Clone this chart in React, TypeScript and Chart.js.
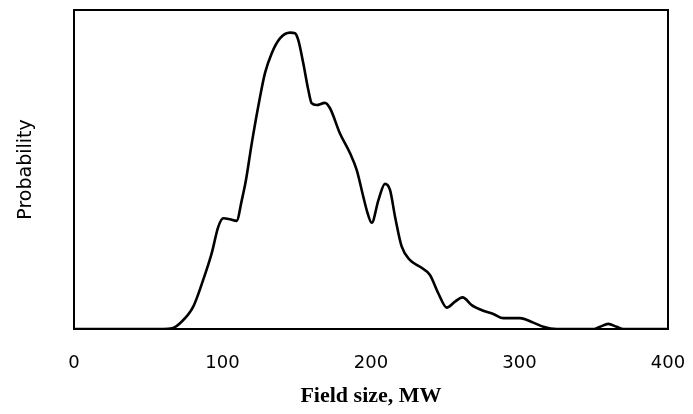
import React, { useEffect, useRef } from "react";
import { Chart, registerables } from "chart.js";

Chart.register(...registerables);

// Field size (MW) sample positions
const fieldSize = [
  0, 60, 66, 71.4, 80.3, 87, 92.7, 97.2, 100.6, 105, 109.5, 113, 115.8, 119.7,
  125.3, 128.6, 133.1, 138.7, 145.5, 148.8, 151, 154.4, 157.8, 160, 163.4, 169,
  172.4, 179.1, 185.9, 190.4, 194.8, 197.1, 200.5, 205, 209.4, 212.8, 216.2,
  220.7, 226.3, 233, 239.7, 245.3, 251, 256.6, 261.7, 267.8, 275.6, 282.4,
  289.1, 300.3, 309.3, 316, 325, 350, 354.2, 359.8, 365.4, 370, 400,
];

// Relative probability (0–100 of the plot height)
const probability = [
  0, 0, 0.2, 1.8, 7.0, 15.4, 23.7, 32.1, 34.7, 34.4, 33.9, 40.4, 46.7, 58.2,
  72.8, 80.2, 86.4, 91.1, 92.9, 92.7, 90.6, 83.3, 74.9, 70.8, 70.2, 70.9,
  69.2, 61.3, 55.1, 49.8, 41.5, 37.3, 33.3, 40.4, 45.5, 43.6, 35.2,
  25.8, 21.6, 19.5, 16.9, 11.2, 6.7, 8.6, 9.9, 7.5, 5.7, 4.7,
  3.4, 3.4, 2.0, 0.7, 0, 0, 0.7, 1.6, 0.7, 0, 0,
];

const xTickValues = [0, 100, 200, 300, 400];
const xTitle = "Field size, MW";
const yTitle = "Probability";

const framePlugin = {
  id: "frame",
  afterDatasetsDraw(chart: any) {
    const { ctx, chartArea } = chart;
    const { left, top, right, bottom } = chartArea;
    ctx.save();
    ctx.strokeStyle = "#000";
    ctx.lineWidth = 2;
    ctx.strokeRect(left, top, right - left, bottom - top);
    ctx.restore();
  },
};

export default function App() {
  const ref = useRef<HTMLCanvasElement | null>(null);

  useEffect(() => {
    document.body.style.margin = "0";
    const canvas = ref.current;
    if (!canvas) return;
    const chart = new Chart(canvas, {
      type: "line",
      data: {
        datasets: [
          {
            data: fieldSize.map((x, i) => ({ x, y: probability[i] })),
            borderColor: "#000",
            borderWidth: 2.6,
            pointRadius: 0,
            fill: false,
            tension: 0.4,
            cubicInterpolationMode: "monotone",
          },
        ],
      },
      options: {
        animation: false,
        responsive: false,
        maintainAspectRatio: false,
        events: [],
        layout: { padding: { top: 10, right: 25, left: 0, bottom: 0 } },
        plugins: {
          legend: { display: false },
          tooltip: { enabled: false },
        },
        scales: {
          x: {
            type: "linear",
            min: 0,
            max: 400,
            afterBuildTicks: (s: any) => {
              s.ticks = xTickValues.map((v) => ({ value: v }));
            },
            afterFit: (s: any) => {
              s.height = 85;
              s.paddingLeft = 0;
              s.paddingRight = 0;
            },
            grid: { display: false, drawTicks: false },
            border: { display: false },
            ticks: {
              color: "#000",
              padding: 24,
              maxRotation: 0,
              font: { family: "DejaVu Sans", size: 18, lineHeight: 1.2 },
              callback: (v: any) => String(v),
            },
            title: {
              display: true,
              text: xTitle,
              color: "#000",
              font: { family: "Liberation Serif", size: 22, weight: "bold", lineHeight: 1.2 },
              padding: { top: 0, bottom: 4 },
            },
          },
          y: {
            type: "linear",
            min: 0,
            max: 100,
            afterFit: (s: any) => {
              s.width = 74;
              s.paddingTop = 0;
              s.paddingBottom = 0;
            },
            grid: { display: false, drawTicks: false },
            border: { display: false },
            ticks: { display: false },
            title: {
              display: true,
              text: yTitle,
              color: "#000",
              font: { family: "DejaVu Sans", size: 19, lineHeight: 1.2 },
              padding: { top: 14.6, bottom: 0 },
            },
          },
        },
      },
      plugins: [framePlugin],
    } as any);
    return () => chart.destroy();
  }, []);

  return (
    <div style={{ width: 693, height: 414 }}>
      <canvas ref={ref} width={693} height={414} style={{ display: "block", width: 693, height: 414 }} />
    </div>
  );
}
